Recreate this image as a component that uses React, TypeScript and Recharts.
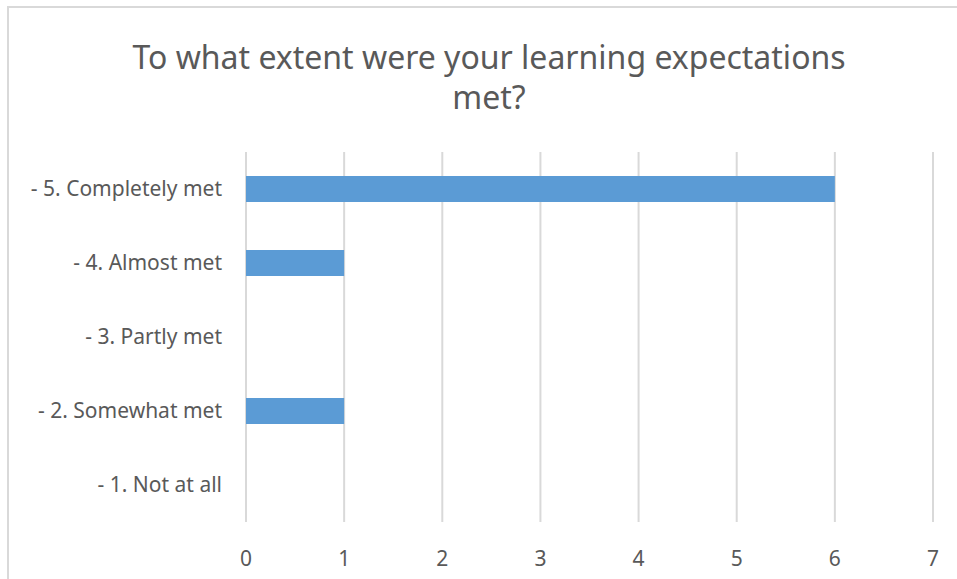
import { BarChart, Bar, XAxis, YAxis, CartesianGrid } from "recharts";

const categories = [
  "- 5. Completely met",
  "- 4. Almost met",
  "- 3. Partly met",
  "- 2. Somewhat met",
  "- 1. Not at all",
];
const counts = [6, 1, 0, 1, 0];
const xTicks = [0, 1, 2, 3, 4, 5, 6, 7];

const titleLines = ["To what extent were your learning expectations", "met?"];

const data = categories.map((c, i) => ({ label: c, value: counts[i] }));

const FONT = "'Noto Sans', 'Open Sans', sans-serif";
const TEXT = "#595959";
const GRID = "#d9d9d9";

export default function App() {
  return (
    <div style={{ position: "absolute", left: 0, top: 0, width: 957, height: 579, overflow: "hidden", background: "#fff" }}>
      {/* chart frame, cut off on the right and bottom */}
      <div
        style={{
          position: "absolute",
          left: 7,
          top: 6,
          width: 1000,
          height: 600,
          borderTop: `2px solid ${GRID}`,
          borderLeft: `2px solid ${GRID}`,
        }}
      />
      <div
        style={{
          position: "absolute",
          left: 8,
          width: 962,
          top: 37,
          textAlign: "center",
          fontFamily: FONT,
          fontSize: 32,
          lineHeight: "40px",
          color: TEXT,
        }}
      >
        {titleLines.map((t) => (
          <div key={t}>{t}</div>
        ))}
      </div>
      <div style={{ position: "absolute", left: 0, top: 0 }}>
        <BarChart
          width={957}
          height={579}
          data={data}
          layout="vertical"
          margin={{ top: 152, right: 24, left: 0, bottom: 27 }}
        >
          <CartesianGrid horizontal={false} stroke={GRID} strokeWidth={2} />
          <XAxis
            type="number"
            domain={[0, 7]}
            ticks={xTicks}
            axisLine={false}
            tickLine={false}
            tickMargin={23}
            height={30}
            tick={{ fill: TEXT, fontSize: 21, fontFamily: FONT }}
          />
          <YAxis
            type="category"
            dataKey="label"
            width={246}
            axisLine={false}
            tickLine={false}
            tickMargin={18}
            tick={{ fill: TEXT, fontSize: 21, fontFamily: FONT }}
          />
          <Bar dataKey="value" fill="#5B9BD5" barSize={26} isAnimationActive={false} />
        </BarChart>
      </div>
    </div>
  );
}
